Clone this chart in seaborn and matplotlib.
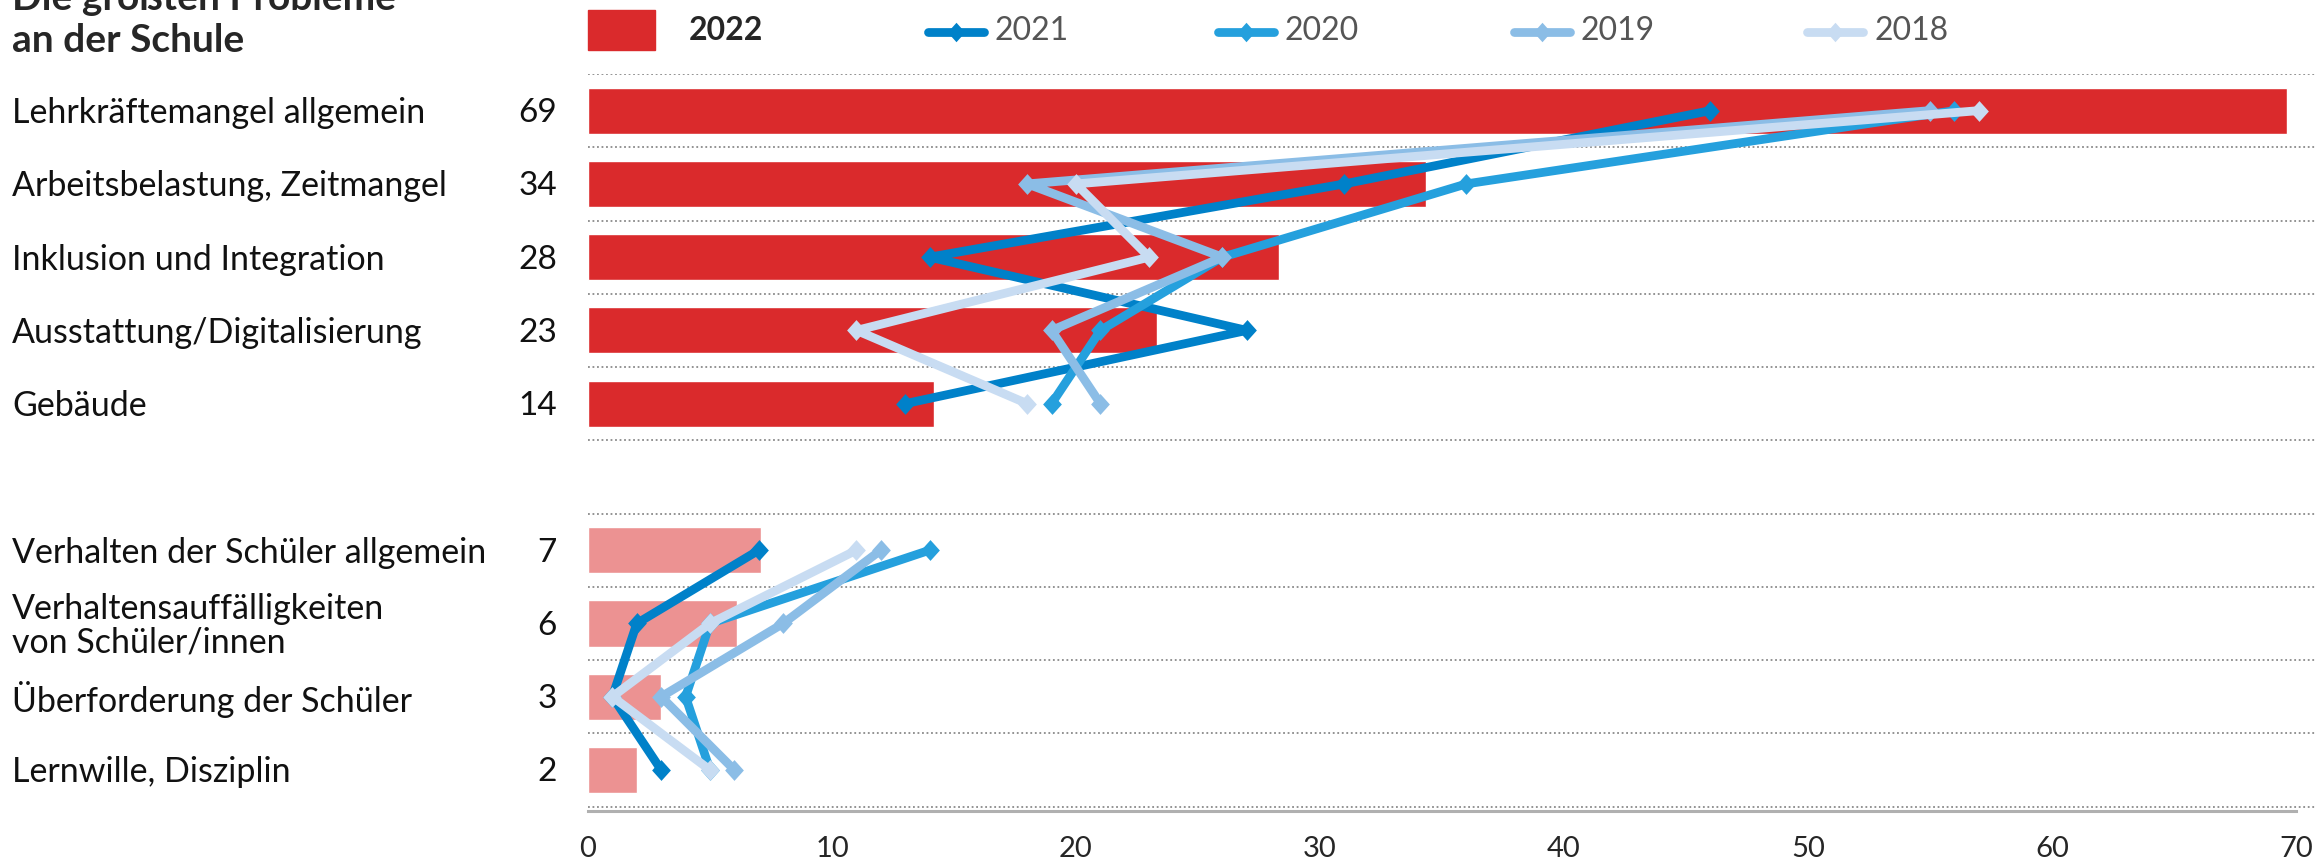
import numpy as np
import pandas as pd
import matplotlib
matplotlib.use("Agg")
import matplotlib.pyplot as plt
import matplotlib.transforms as mtransforms
from matplotlib.patches import Rectangle
from matplotlib.lines import Line2D
import seaborn as sns

# data
categories = ["Lehrkräftemangel allgemein", "Arbeitsbelastung, Zeitmangel",
              "Inklusion und Integration", "Ausstattung/Digitalisierung", "Gebäude",
              "Verhalten der Schüler allgemein",
              "Verhaltensauffälligkeiten\nvon Schüler/innen",
              "Überforderung der Schüler", "Lernwille, Disziplin"]
positions = [0, 1, 2, 3, 4, 6, 7, 8, 9]
groups = ["main"] * 5 + ["other"] * 4
share_2022 = [69.65, 34.35, 28.3, 23.3, 14.2, 7.1, 6.1, 3.0, 2.0]
labels_2022 = [69, 34, 28, 23, 14, 7, 6, 3, 2]
share_2021 = [46, 31, 14, 27, 13, 7, 2, 1, 3]
share_2020 = [56, 36, 26, 21, 19, 14, 5, 4, 5]
share_2019 = [55, 18, 26, 19, 21, 12, 8, 3, 6]
share_2018 = [57, 20, 23, 11, 18, 11, 5, 1, 5]
years = ["2021", "2020", "2019", "2018"]

red = "#DA2A2C"
light_red = "#EC9292"
year_colors = {"2021": "#0081C9", "2020": "#25A0DD", "2019": "#8BBDE6", "2018": "#C8DCF2"}

bars = pd.DataFrame({"pos": positions, "value": share_2022, "group": groups})
frames = []
for year, vals in zip(years, [share_2021, share_2020, share_2019, share_2018]):
    frames.append(pd.DataFrame({"pos": positions, "value": vals, "group": groups, "year": year}))
lines = pd.concat(frames, ignore_index=True)

diamond = [(0, 1), (0.9, 0), (0, -1), (-0.9, 0), (0, 1)]

sns.set_style("white")
plt.rcParams["font.family"] = ["Lato", "DejaVu Sans"]

W, H = 2316, 862
fig = plt.figure(figsize=(W / 100, H / 100), dpi=100)
ax = fig.add_axes([588 / W, 1 - 812 / H, 1 - 588 / W, (812 - 75) / H])

sns.barplot(data=bars, x="value", y="pos", hue="group", palette={"main": red, "other": light_red},
            orient="y", native_scale=True, width=0.63, dodge=False, errorbar=None,
            saturation=1, legend=False, ax=ax)

sns.lineplot(data=lines, x="value", y="pos", hue="year", hue_order=years, palette=year_colors,
             units="group", estimator=None, sort=False, orient="y", marker=diamond,
             markersize=15, markeredgewidth=0, linewidth=6.3, legend=False, ax=ax)

ax.set_xlim(0, (W - 588) / 24.4)
ax.set_ylim(9.56, -0.5)
ax.set_xlabel("")
ax.set_ylabel("")
ax.set_yticks([])
ax.set_yticks(np.arange(-0.5, 10, 1), minor=True)
ax.grid(which="minor", axis="y", color="#8a8a8a", linestyle=(0, (1, 1.5)), linewidth=1.3)
ax.grid(which="major", axis="x", visible=False)
ax.tick_params(axis="y", which="both", length=0)
ax.set_axisbelow(True)
ax.set_xticks(range(0, 71, 10))
ax.tick_params(axis="x", labelsize=21, length=7, width=1.2, color="#999999", pad=10)
for s in ["top", "right", "left"]:
    ax.spines[s].set_visible(False)
ax.spines["bottom"].set_color("#b0b0b0")
ax.spines["bottom"].set_linewidth(2.2)
ax.spines["bottom"].set_bounds(0, 70)

# category names and 2022 values at the left
trans = mtransforms.blended_transform_factory(fig.transFigure, ax.transData)
for cat, pos, lab in zip(categories, positions, labels_2022):
    ax.text(12 / W, pos + 0.02, cat, transform=trans, ha="left", va="center", fontsize=24.5,
            linespacing=1.05, color="#111111")
    ax.text(557 / W, pos + 0.02, str(lab), transform=trans, ha="right", va="center",
            fontsize=24, color="#111111")

# title (first line is cut off at the top, as in the original)
fig.text(12 / W, 1 - 10 / H, "Die größten Probleme", fontsize=28, fontweight="bold",
         ha="left", va="baseline")
fig.text(12 / W, 1 - 52 / H, "an der Schule", fontsize=28, fontweight="bold",
         ha="left", va="baseline")

# legend
fig.add_artist(Rectangle((588 / W, 1 - 51 / H), 67 / W, 40 / H, transform=fig.transFigure,
                         color=red))
fig.text(689 / W, 1 - 31 / H, "2022", fontsize=23, fontweight="bold", ha="left", va="center")
leg_x = [928, 1218, 1514, 1807]
for year, x0 in zip(years, leg_x):
    ly = 1 - 33 / H
    fig.add_artist(Line2D([x0 / W, (x0 + 28) / W, (x0 + 56) / W], [ly, ly, ly],
                          transform=fig.transFigure, color=year_colors[year], lw=6.3,
                          marker=diamond, markersize=14, markeredgewidth=0, markevery=[1]))
    fig.text((x0 + 67) / W, 1 - 31 / H, year, fontsize=23, color="#555555",
             ha="left", va="center")

fig.savefig("out.png", dpi=100)
